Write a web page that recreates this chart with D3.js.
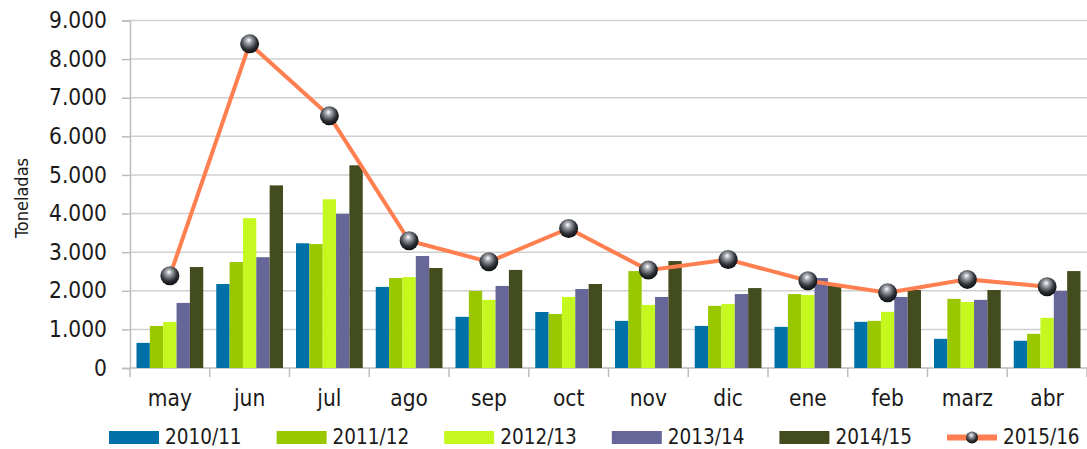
<!DOCTYPE html>
<html>
<head>
<meta charset="utf-8">
<script src="https://cdn.jsdelivr.net/npm/d3@7"></script>
<style>
  body { margin: 0; background: #fff; }
  svg text { font-family: "DejaVu Sans Condensed", "DejaVu Sans", sans-serif; fill: #1a1a1a; }
</style>
</head>
<body>
<div id="chart-area"></div>
<script>
// meses (categorías)
var months = ["may", "jun", "jul", "ago", "sep", "oct", "nov", "dic", "ene", "feb", "marz", "abr"];
var barSeries = ["2010/11", "2011/12", "2012/13", "2013/14", "2014/15"];
var lineSeries = "2015/16";
var yTicks = [0, 1000, 2000, 3000, 4000, 5000, 6000, 7000, 8000, 9000];

// toneladas por campaña
var v2010 = [650, 2175, 3230, 2100, 1325, 1450, 1220, 1090, 1065, 1195, 755, 705];
var v2011 = [1090, 2745, 3210, 2330, 1995, 1400, 2510, 1610, 1915, 1220, 1790, 885];
var v2012 = [1195, 3880, 4370, 2355, 1765, 1840, 1635, 1660, 1890, 1455, 1710, 1300];
var v2013 = [1685, 2870, 3990, 2900, 2125, 2045, 1840, 1915, 2330, 1840, 1765, 1995];
var v2014 = [2615, 4730, 5250, 2590, 2540, 2175, 2770, 2070, 2125, 2020, 2020, 2510];
var v2015 = [2390, 8395, 6530, 3295, 2750, 3615, 2535, 2810, 2260, 1950, 2295, 2105];

var barValues = [v2010, v2011, v2012, v2013, v2014];
var barColors = ["#0070a8", "#99c800", "#c5f81e", "#666699", "#434c1e"];
var lineColor = "#ff7f50";

var margin = { left: 130, right: 0, top: 20.5, bottom: 81 },
    width = 1087 - margin.left - margin.right,
    height = 449 - margin.top - margin.bottom;

var svg = d3.select("#chart-area").append("svg")
    .attr("width", 1087)
    .attr("height", 449);

// gradiente del marcador (esfera)
var grad = svg.append("defs").append("radialGradient")
    .attr("id", "ball")
    .attr("cx", "45%").attr("cy", "38%").attr("r", "62%")
    .attr("fx", "45%").attr("fy", "30%");
grad.append("stop").attr("offset", "0%").attr("stop-color", "#ffffff");
grad.append("stop").attr("offset", "25%").attr("stop-color", "#a3a8ae");
grad.append("stop").attr("offset", "70%").attr("stop-color", "#2c2f34");
grad.append("stop").attr("offset", "100%").attr("stop-color", "#0e0f11");

var g = svg.append("g")
    .attr("transform", "translate(" + margin.left + "," + margin.top + ")");

// Scales
var x = d3.scaleBand().domain(months).range([0, width]);
var x1 = d3.scaleBand().domain(barSeries).range([6.5, x.bandwidth() - 6.5]);
var y = d3.scaleLinear().domain([0, 9000]).range([height, 0]);

// gridlines
g.append("g").selectAll("line")
    .data(yTicks.slice(1))
    .enter().append("line")
    .attr("x1", 0).attr("x2", width)
    .attr("y1", function (d) { return y(d); })
    .attr("y2", function (d) { return y(d); })
    .attr("stroke", "#d0d0d0")
    .attr("stroke-width", 1.5);

// y axis
var yAxis = g.append("g")
    .call(d3.axisLeft(y).tickValues(yTicks).tickSize(8).tickPadding(15)
        .tickFormat(function (d) { return d3.format(",")(d).replace(/,/g, "."); }));
yAxis.select(".domain").attr("stroke", "#bdbdbd").attr("stroke-width", 1.5);
yAxis.selectAll(".tick line").attr("stroke", "#bdbdbd").attr("stroke-width", 1.5);
yAxis.selectAll(".tick text").attr("font-size", 22.5).attr("fill", "#1a1a1a")
    .style("font-family", "'DejaVu Sans Condensed', 'DejaVu Sans', sans-serif");

// x axis
var xAxis = g.append("g")
    .attr("transform", "translate(0," + height + ")");
xAxis.append("line")
    .attr("x1", 0).attr("x2", width)
    .attr("stroke", "#bdbdbd").attr("stroke-width", 1.5);
xAxis.selectAll("line.tk")
    .data(d3.range(months.length + 1))
    .enter().append("line")
    .attr("class", "tk")
    .attr("x1", function (i) { return i * x.step(); })
    .attr("x2", function (i) { return i * x.step(); })
    .attr("y1", 0).attr("y2", 9)
    .attr("stroke", "#bdbdbd").attr("stroke-width", 1.5);
xAxis.selectAll("text")
    .data(months)
    .enter().append("text")
    .attr("x", function (d) { return x(d) + x.bandwidth() / 2; })
    .attr("y", 38)
    .attr("text-anchor", "middle")
    .attr("font-size", 22.5)
    .text(function (d) { return d; });

// y label
svg.append("text")
    .attr("transform", "rotate(-90)")
    .attr("x", -198)
    .attr("y", 28)
    .attr("text-anchor", "middle")
    .attr("font-size", 18)
    .text("Toneladas");

// bars
barSeries.forEach(function (s, i) {
    g.append("g").selectAll("rect")
        .data(barValues[i])
        .enter().append("rect")
        .attr("x", function (d, j) { return x(months[j]) + x1(s); })
        .attr("width", x1.bandwidth())
        .attr("y", function (d) { return y(d); })
        .attr("height", function (d) { return height - y(d); })
        .attr("fill", barColors[i]);
});

// line
var lineGenerator = d3.line()
    .x(function (d, j) { return x(months[j]) + x.bandwidth() / 2; })
    .y(function (d) { return y(d); });

g.append("path")
    .attr("d", lineGenerator(v2015))
    .attr("fill", "none")
    .attr("stroke", lineColor)
    .attr("stroke-width", 4);

g.append("g").selectAll("circle")
    .data(v2015)
    .enter().append("circle")
    .attr("cx", function (d, j) { return x(months[j]) + x.bandwidth() / 2; })
    .attr("cy", function (d) { return y(d); })
    .attr("r", 9.5)
    .attr("fill", "url(#ball)");

// legend
var legend = svg.append("g").attr("transform", "translate(109,437.5)");
var items = barSeries.concat([lineSeries]);
items.forEach(function (s, i) {
    var lg = legend.append("g").attr("transform", "translate(" + (i * 167.6) + ",0)");
    if (i < barSeries.length) {
        lg.append("rect")
            .attr("x", 0).attr("y", -6.5)
            .attr("width", 50).attr("height", 13)
            .attr("fill", barColors[i]);
    } else {
        lg.append("line")
            .attr("x1", 0).attr("x2", 50)
            .attr("stroke", lineColor).attr("stroke-width", 6);
        lg.append("circle")
            .attr("cx", 25).attr("r", 6)
            .attr("fill", "url(#ball)");
    }
    lg.append("text")
        .attr("x", 56)
        .attr("y", 6.5)
        .attr("font-size", 20.5)
        .text(s);
});
</script>
</body>
</html>
